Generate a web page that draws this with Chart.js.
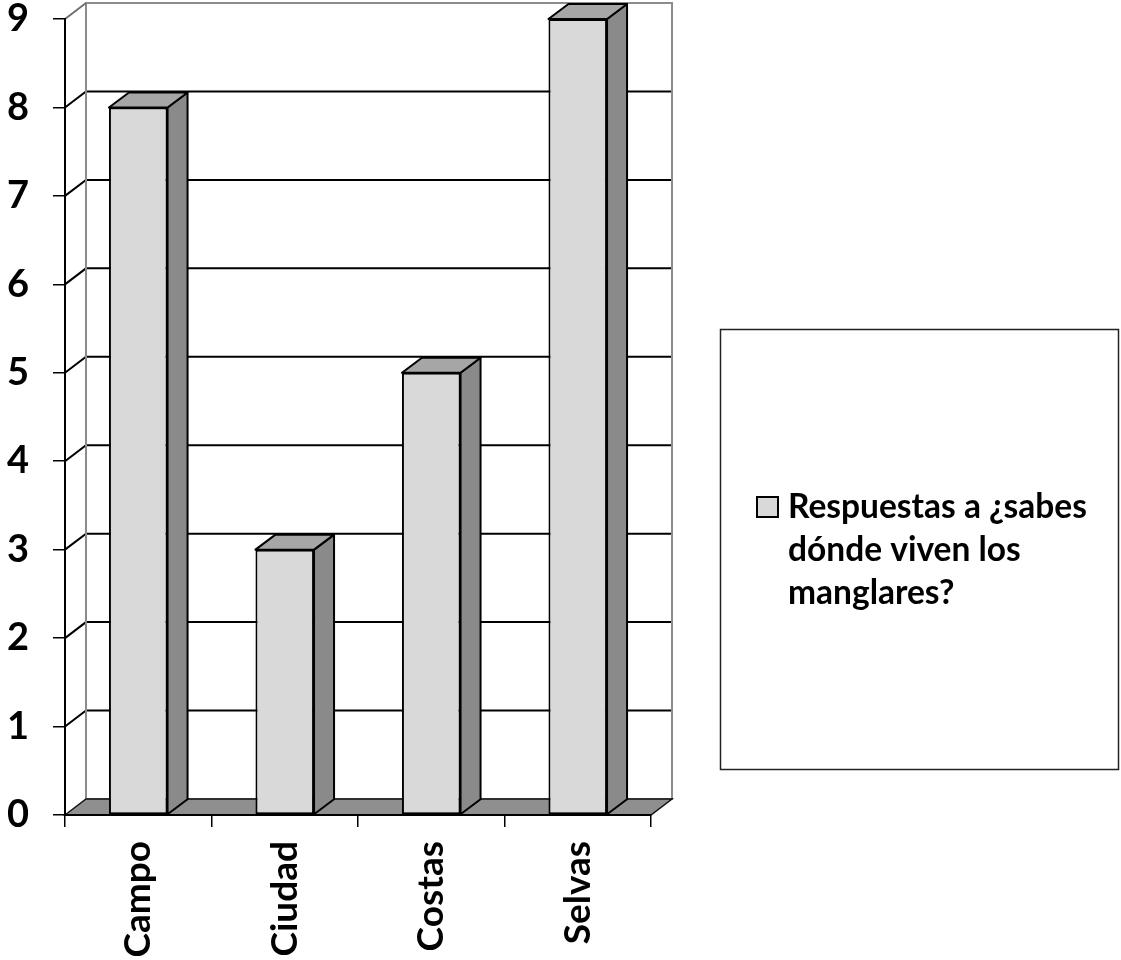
<!DOCTYPE html>
<html>
<head>
<meta charset="utf-8">
<script src="https://cdn.jsdelivr.net/npm/chart.js@4.4.0/dist/chart.umd.min.js"></script>
<style>
  html, body { margin: 0; padding: 0; background: #fff; }
  #wrap { width: 1121px; height: 960px; }
</style>
</head>
<body>
<div id="wrap"><canvas id="grafico"></canvas></div>
<script>
// datos del grafico
const categorias = ['Campo', 'Ciudad', 'Costas', 'Selvas'];
const respuestas = [8, 3, 5, 9];
const nombreSerie = 'Respuestas a ¿sabes dónde viven los manglares?';
const lineasLeyenda = ['Respuestas a ¿sabes', 'dónde viven los', 'manglares?'];
const ejeMin = 0;
const ejeMax = 9;
const ejePaso = 1;

// profundidad del efecto 3D
const DX = 21, DY = -16;
const FUENTE = 'Lato';

// paredes, piso y lineas de fondo
const fondo3d = {
  id: 'fondo3d',
  beforeDraw(chart) {
    const { ctx, chartArea: a, scales: { y } } = chart;
    ctx.save();
    // pared del fondo
    ctx.fillStyle = '#fff';
    ctx.fillRect(a.left + DX, a.top + DY, a.right - a.left, a.bottom - a.top);
    // lineas de division (pared izq + fondo)
    ctx.lineWidth = 2;
    for (let v = ejeMin + ejePaso; v < ejeMax; v += ejePaso) {
      const yy = y.getPixelForValue(v);
      ctx.strokeStyle = '#000';
      ctx.beginPath();
      ctx.moveTo(a.left, yy);
      ctx.lineTo(a.left + DX, yy + DY);
      ctx.lineTo(a.right + DX, yy + DY);
      ctx.stroke();
    }
    // borde de la pared del fondo
    ctx.strokeStyle = '#8c8c8c';
    ctx.lineWidth = 2;
    ctx.strokeRect(a.left + DX, a.top + DY, a.right - a.left, a.bottom - a.top);
    ctx.strokeStyle = '#6e6e6e';
    ctx.beginPath();
    ctx.moveTo(a.left, a.top);
    ctx.lineTo(a.left + DX, a.top + DY);
    ctx.stroke();
    // piso
    ctx.fillStyle = '#8f8f8f';
    ctx.strokeStyle = '#111';
    ctx.lineWidth = 1.5;
    ctx.beginPath();
    ctx.moveTo(a.left, a.bottom);
    ctx.lineTo(a.left + DX, a.bottom + DY);
    ctx.lineTo(a.right + DX, a.bottom + DY);
    ctx.lineTo(a.right, a.bottom);
    ctx.closePath();
    ctx.fill();
    ctx.stroke();
    ctx.restore();
  }
};

// caras superior y lateral de las barras
const barras3d = {
  id: 'barras3d',
  afterDatasetsDraw(chart) {
    const { ctx } = chart;
    const bx = 20, by = -15;
    ctx.save();
    ctx.lineWidth = 2;
    ctx.strokeStyle = '#000';
    ctx.lineJoin = 'round';
    chart.getDatasetMeta(0).data.forEach(bar => {
      const x0 = bar.x - bar.width / 2;
      const x1 = bar.x + bar.width / 2;
      const top = bar.y, base = bar.base;
      // lateral
      ctx.fillStyle = '#8a8a8a';
      ctx.beginPath();
      ctx.moveTo(x1, top);
      ctx.lineTo(x1 + bx, top + by);
      ctx.lineTo(x1 + bx, base + by);
      ctx.lineTo(x1, base);
      ctx.closePath();
      ctx.fill();
      ctx.stroke();
      // arriba
      ctx.fillStyle = '#a6a6a6';
      ctx.beginPath();
      ctx.moveTo(x0, top);
      ctx.lineTo(x0 + bx, top + by);
      ctx.lineTo(x1 + bx, top + by);
      ctx.lineTo(x1, top);
      ctx.closePath();
      ctx.fill();
      ctx.stroke();
    });
    ctx.restore();
  }
};

// leyenda con caja a la derecha
const leyendaCaja = {
  id: 'leyendaCaja',
  afterDraw(chart) {
    const { ctx } = chart;
    ctx.save();
    ctx.strokeStyle = '#222';
    ctx.lineWidth = 1.5;
    ctx.strokeRect(720.5, 329.5, 398, 440);
    ctx.fillStyle = '#d9d9d9';
    ctx.fillRect(757, 497, 21, 20);
    ctx.strokeStyle = '#000';
    ctx.lineWidth = 2;
    ctx.strokeRect(757, 497, 21, 20);
    ctx.fillStyle = '#000';
    ctx.font = 'bold 33.5px ' + FUENTE;
    ctx.textBaseline = 'alphabetic';
    lineasLeyenda.forEach((t, i) => ctx.fillText(t, 788, 518 + i * 43));
    ctx.restore();
  }
};

const ctx = document.getElementById('grafico').getContext('2d');
new Chart(ctx, {
  type: 'bar',
  data: {
    labels: categorias,
    datasets: [{
      label: nombreSerie,
      data: respuestas,
      backgroundColor: '#d9d9d9',
      borderColor: '#000',
      borderWidth: 2,
      borderSkipped: false,
      categoryPercentage: 1,
      barPercentage: 0.4
    }]
  },
  options: {
    responsive: true,
    maintainAspectRatio: false,
    animation: false,
    layout: { padding: { top: 19, right: 470, left: 0, bottom: 0 } },
    plugins: { legend: { display: false }, tooltip: { enabled: false } },
    scales: {
      x: {
        offset: true,
        afterFit: s => { s.height = 145; s.paddingLeft = 0; s.paddingRight = 0; },
        grid: { offset: true, drawOnChartArea: false, drawTicks: true, tickLength: 12, color: '#000', lineWidth: 1.5 },
        border: { display: true, color: '#000', width: 2 },
        ticks: {
          color: '#000', minRotation: 90, maxRotation: 90, padding: 14,
          font: { family: FUENTE, size: 37, weight: 'bold' }
        }
      },
      y: {
        min: ejeMin, max: ejeMax,
        afterFit: s => { s.width = 65; s.paddingTop = 0; s.paddingBottom = 0; },
        grid: { drawOnChartArea: false, drawTicks: true, tickLength: 12, color: '#000', lineWidth: 1.5 },
        border: { display: true, color: '#000', width: 2 },
        ticks: {
          stepSize: ejePaso, color: '#000', padding: 24,
          font: { family: FUENTE, size: 38, weight: 'bold' }
        }
      }
    }
  },
  plugins: [fondo3d, barras3d, leyendaCaja]
});
</script>
</body>
</html>
